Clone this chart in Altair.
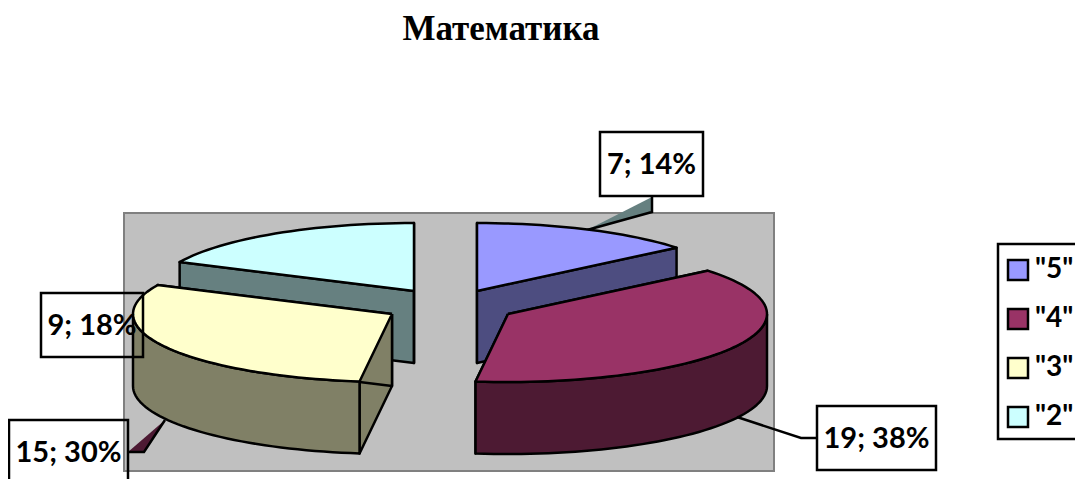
import math
import altair as alt
import pandas as pd

# --- data -------------------------------------------------------------
grades = ['"5"', '"4"', '"3"', '"2"']
counts = [7, 19, 15, 9]
percents = [14, 38, 30, 18]
top_colors = ["#9999FF", "#993366", "#FFFFCC", "#CCFFFF"]
side_colors = ["#4D4D80", "#4D1A33", "#808066", "#668080"]
title_text = "Математика"

# --- pie projection ----------------------------------------------------
pie_rx, pie_ry, pie_depth = 259, 68, 72
slice_centers = [(477, 291), (508, 314), (392, 314), (414, 291)]
draw_sequence = [3, 0, 2, 1]          # back slices first
LINE = 2.5

total = sum(counts)
starts, acc = [], 0
for c in counts:
    starts.append(acc / total * 360)
    acc += c


def pt(center, deg, drop=0):
    a = math.radians(deg)
    return (center[0] + pie_rx * math.sin(a), center[1] - pie_ry * math.cos(a) + drop)


def arc(center, a0, a1, drop=0):
    n = max(2, int(abs(a1 - a0) / 2))
    return [pt(center, a0 + (a1 - a0) * k / n, drop) for k in range(n + 1)]


polys = []  # (points, fill)
for idx in draw_sequence:
    ctr = slice_centers[idx]
    a0 = starts[idx]
    a1 = a0 + counts[idx] / total * 360
    below = (ctr[0], ctr[1] + pie_depth)
    for edge in (a0, a1):
        polys.append(([ctr, pt(ctr, edge), pt(ctr, edge, pie_depth), below, ctr], side_colors[idx]))
    r0, r1 = max(a0, 90), min(a1, 270)
    if r1 > r0:
        front = arc(ctr, r0, r1)
        polys.append((front + arc(ctr, r1, r0, pie_depth) + front[:1], side_colors[idx]))
    polys.append(([ctr] + arc(ctr, a0, a1) + [ctr], top_colors[idx]))

rows = []
for pid, (points, fill) in enumerate(polys):
    for i, (x, y) in enumerate(points):
        rows.append({"poly": pid, "i": i, "x": x, "y": y})
df = pd.DataFrame(rows)

# --- scales: page pixel space -------------------------------------------
W, H = 1067, 471
xs = alt.Scale(domain=[8, 8 + W], range=[0, W], nice=False, zero=False)
ys = alt.Scale(domain=[8, 8 + H], range=[0, H], nice=False, zero=False)
X = alt.X("x:Q", scale=xs, axis=None)
Y = alt.Y("y:Q", scale=ys, axis=None)
X2 = alt.X2("x2:Q")
Y2 = alt.Y2("y2:Q")

layers = []

# plot-area backdrop
backdrop = pd.DataFrame([{"x": 124, "x2": 774, "y": 213, "y2": 471}])
layers.append(alt.Chart(backdrop).mark_rect(fill="#C0C0C0", stroke="#808080", strokeWidth=2).encode(x=X, x2=X2, y=Y, y2=Y2))

# leader wedges and lines
leaders = [
    ([(652, 197), (652, 212), (587, 230), (652, 197)], side_colors[3], [(652, 197), (652, 212), (587, 230)]),
    ([(128, 452), (144, 452), (165, 420), (128, 452)], side_colors[1], [(128, 452), (144, 452), (165, 420)]),
]


def line_layer(points, **kw):
    d = pd.DataFrame([{"x": x, "y": y, "i": i} for i, (x, y) in enumerate(points)])
    return alt.Chart(d).mark_line(**kw).encode(x=X, y=Y, order=alt.Order("i:Q"))


for pts_fill, col, pts_line in leaders:
    layers.append(line_layer(pts_fill, fill=col, strokeWidth=0, stroke=col))
    layers.append(line_layer(pts_line, stroke="black", strokeWidth=LINE))

# pie
base = alt.Chart(df).encode(x=X, y=Y, order=alt.Order("i:Q"))
for pid, (points, fill) in enumerate(polys):
    layers.append(
        base.transform_filter(alt.datum.poly == pid).mark_line(
            fill=fill, stroke="black", strokeWidth=LINE, strokeJoin="round"
        )
    )

layers.append(line_layer([(737, 417), (801, 438), (817, 438)], stroke="black", strokeWidth=LINE))

# data labels
label_boxes = [(600, 703, 132, 196), (817, 936, 406, 470), (9, 128, 420, 484), (41, 143, 293, 357)]
labels = [f"{c}; {p}%" for c, p in zip(counts, percents)]
lab = pd.DataFrame(
    [
        {"x": b[0], "x2": b[1], "y": b[2], "y2": b[3], "cx": (b[0] + b[1]) / 2, "cy": (b[2] + b[3]) / 2, "t": t}
        for b, t in zip(label_boxes, labels)
    ]
)
layers.append(alt.Chart(lab).mark_rect(fillOpacity=0, stroke="black", strokeWidth=LINE).encode(x=X, x2=X2, y=Y, y2=Y2))
layers.append(
    alt.Chart(lab)
    .mark_text(font="Lato", fontWeight="bold", fontSize=29, dy=1, color="black", baseline="middle", align="center")
    .encode(x=alt.X("cx:Q", scale=xs, axis=None), y=alt.Y("cy:Q", scale=ys, axis=None), text="t:N")
)

# title
layers.append(
    alt.Chart(pd.DataFrame([{"x": 501, "y": 29, "t": title_text}]))
    .mark_text(font="Liberation Serif", fontWeight="bold", fontSize=35, color="black", baseline="middle", align="center")
    .encode(x=X, y=Y, text="t:N")
)

# legend frame (its right side runs off the page, as in the reference)
frame = pd.DataFrame([{"x": 998, "x2": 1095, "y": 244, "y2": 439}])
layers.append(alt.Chart(frame).mark_rect(fill="white", stroke="black", strokeWidth=LINE).encode(x=X, x2=X2, y=Y, y2=Y2))

# legend carrier
leg = pd.DataFrame({"grade": grades, "x": [1000] * 4, "y": [300] * 4})
layers.append(
    alt.Chart(leg)
    .mark_point(filled=True, size=0)
    .encode(
        x=X,
        y=Y,
        fill=alt.Fill(
            "grade:N",
            scale=alt.Scale(domain=grades, range=top_colors),
            legend=alt.Legend(
                title=None,
                orient="none",
                legendX=996,
                legendY=248,
                padding=0,
                symbolType="square",
                symbolSize=400,
                symbolStrokeColor="black",
                symbolStrokeWidth=LINE,
                symbolOpacity=1,
                labelFont="Lato",
                labelFontWeight="bold",
                labelFontSize=28,
                labelColor="black",
                labelOffset=3,
                rowPadding=19,
                labelLimit=200,
            ),
        ),
    )
)

chart = (
    alt.layer(*layers)
    .properties(width=W, height=H, padding=0, background="white", autosize=alt.AutoSizeParams(type="none"))
    .configure_view(stroke=None)
)
chart.save("out.html", embed_options={"renderer": "svg", "actions": False})
